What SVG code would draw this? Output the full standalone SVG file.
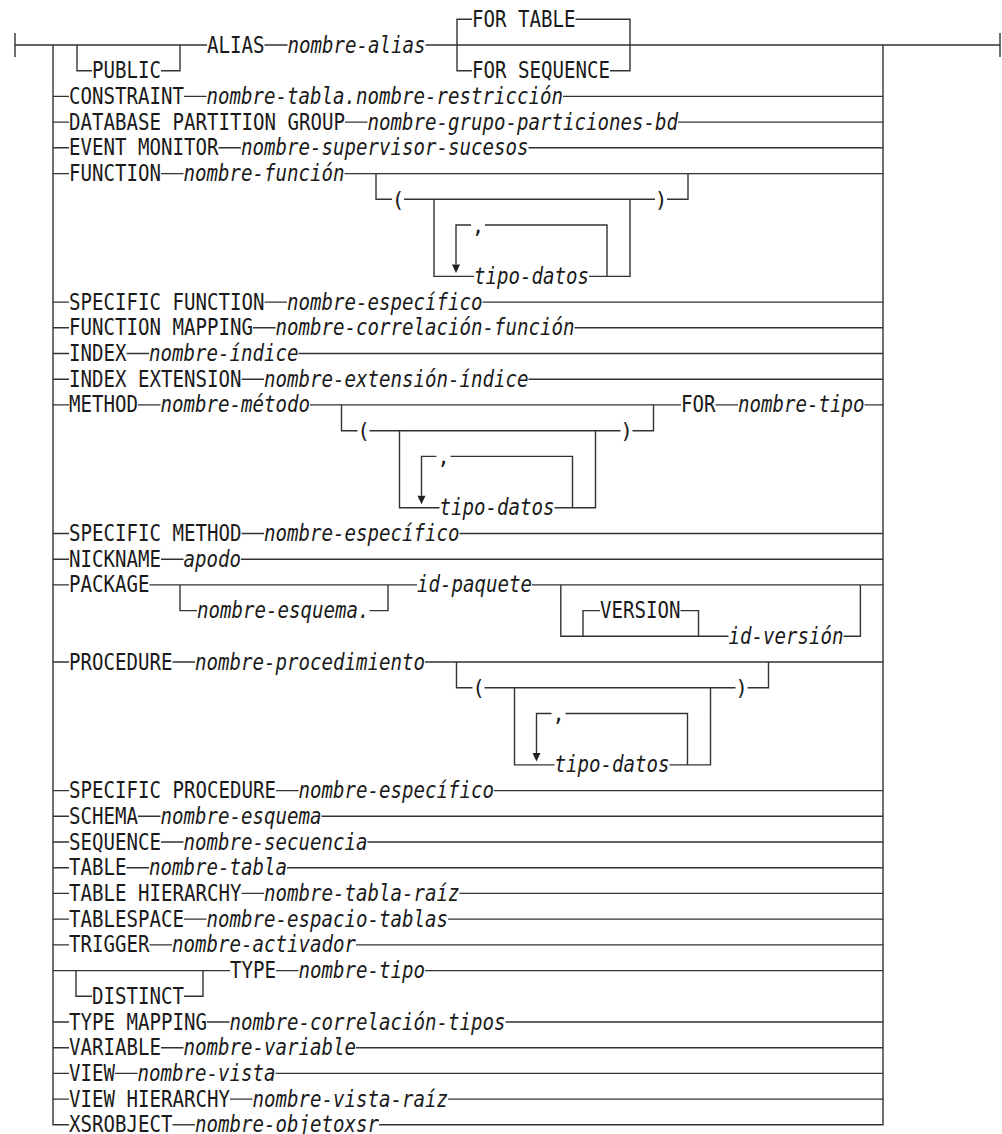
<svg xmlns="http://www.w3.org/2000/svg" width="1002" height="1134" viewBox="0 0 1002 1134">
<style>
.k{font-family:"DejaVu Sans Mono","Liberation Mono",monospace;font-size:23px;fill:#1a1a1a}
.v{font-family:"DejaVu Sans Mono","Liberation Mono",monospace;font-size:23px;font-style:italic;fill:#1a1a1a}
.c{text-anchor:middle;font-size:21px}
.ln{stroke:#333;stroke-width:1.4;fill:none}
.ar{fill:#222;stroke:none}
</style>
<rect width="1002" height="1134" fill="#fff"/>
<g id="connectors">
<path class="ln" d="M15,33V57M1000,33V57"/>
<path class="ln" d="M15,45H207M264.5,45H287.5M425.5,45H1000"/>
<path class="ln" d="M53,45V1124.8H69M379,1124.8H883V45"/>
<path class="ln" d="M77,45V70.7H92M161,70.7H180V45"/>
<path class="ln" d="M472,19.3H457V70.7H472M575.5,19.3H630V70.7H610"/>
<path class="ln" d="M53,96.4H69M184,96.4H206.5M563,96.4H883"/>
<path class="ln" d="M53,122.1H69M345,122.1H367.5M678,122.1H883"/>
<path class="ln" d="M53,147.8H69M218.5,147.8H241M528.5,147.8H883"/>
<path class="ln" d="M53,173.6H69M161,173.6H183.5M344.5,173.6H883"/>
<path class="ln" d="M376,173.6V199.3H392M404,199.3H655M667,199.3H688V173.6M434,199.3V276.4H474M589,276.4H630V199.3M456,264.4V225H471M485,225H607V276.4"/>
<polygon class="ar" points="452,264.4 460,264.4 456,272.9"/>
<path class="ln" d="M53,302.1H69M264.5,302.1H287M482.5,302.1H883"/>
<path class="ln" d="M53,327.8H69M253,327.8H275.5M574.5,327.8H883"/>
<path class="ln" d="M53,353.5H69M126.5,353.5H149M298.5,353.5H883"/>
<path class="ln" d="M53,379.2H69M241.5,379.2H264M528.5,379.2H883"/>
<path class="ln" d="M53,404.9H69M138,404.9H160.5M310,404.9H681M715.5,404.9H738M864.5,404.9H883"/>
<path class="ln" d="M341.5,404.9V430.7H357.5M369.5,430.7H620.5M632.5,430.7H653.5V404.9M399.5,430.7V507.8H439.5M554.5,507.8H595.5V430.7M421.5,495.8V456.4H436.5M450.5,456.4H572.5V507.8"/>
<polygon class="ar" points="417.5,495.8 425.5,495.8 421.5,504.3"/>
<path class="ln" d="M53,533.5H69M241.5,533.5H264M459.5,533.5H883"/>
<path class="ln" d="M53,559.2H69M161,559.2H183.5M241,559.2H883"/>
<path class="ln" d="M53,584.9H69M149.5,584.9H417M532,584.9H883"/>
<path class="ln" d="M180,584.9V610.6H197M369.5,610.6H388V584.9"/>
<path class="ln" d="M560.8,584.9V636.3H728.5M843.5,636.3H860.4V584.9M583,636.3V610.6H600M680.5,610.6H698.5V636.3"/>
<path class="ln" d="M53,662H69M172.5,662H195M425,662H883"/>
<path class="ln" d="M456.5,662V687.8H472.5M484.5,687.8H735.5M747.5,687.8H768.5V662M514.5,687.8V764.9H554.5M669.5,764.9H710.5V687.8M536.5,752.9V713.5H551.5M565.5,713.5H687.5V764.9"/>
<polygon class="ar" points="532.5,752.9 540.5,752.9 536.5,761.4"/>
<path class="ln" d="M53,790.6H69M276,790.6H298.5M494,790.6H883"/>
<path class="ln" d="M53,816.3H69M138,816.3H160.5M321.5,816.3H883"/>
<path class="ln" d="M53,842H69M161,842H183.5M367.5,842H883"/>
<path class="ln" d="M53,867.7H69M126.5,867.7H149M287,867.7H883"/>
<path class="ln" d="M53,893.4H69M241.5,893.4H264M459.5,893.4H883"/>
<path class="ln" d="M53,919.1H69M184,919.1H206.5M448,919.1H883"/>
<path class="ln" d="M53,944.9H69M149.5,944.9H172M356,944.9H883"/>
<path class="ln" d="M53,970.6H230M276,970.6H298.5M425,970.6H883"/>
<path class="ln" d="M76,970.6V996.3H92M184,996.3H203V970.6"/>
<path class="ln" d="M53,1022H69M207,1022H229.5M505.5,1022H883"/>
<path class="ln" d="M53,1047.7H69M161,1047.7H183.5M356,1047.7H883"/>
<path class="ln" d="M53,1073.4H69M115,1073.4H137.5M275.5,1073.4H883"/>
<path class="ln" d="M53,1099.1H69M230,1099.1H252.5M448,1099.1H883"/>
<path class="ln" d="M172.5,1124.8H195"/>
</g>
<g id="n-alias" lengthAdjust="spacingAndGlyphs"><text class="k" x="92" y="78.2" textLength="69" lengthAdjust="spacingAndGlyphs">PUBLIC</text><text class="k" x="207" y="52.5" textLength="57.5" lengthAdjust="spacingAndGlyphs">ALIAS</text><text class="v" x="287.5" y="52.5" textLength="138" lengthAdjust="spacingAndGlyphs">nombre-alias</text><text class="k" x="472" y="26.8" textLength="103.5" lengthAdjust="spacingAndGlyphs">FOR TABLE</text><text class="k" x="472" y="78.2" textLength="138" lengthAdjust="spacingAndGlyphs">FOR SEQUENCE</text></g>
<g id="n-constraint"><text class="k" x="69" y="103.9" textLength="115" lengthAdjust="spacingAndGlyphs">CONSTRAINT</text><text class="v" x="206.5" y="103.9" textLength="356.5" lengthAdjust="spacingAndGlyphs">nombre-tabla.nombre-restricción</text></g>
<g id="n-dbpg"><text class="k" x="69" y="129.6" textLength="276" lengthAdjust="spacingAndGlyphs">DATABASE PARTITION GROUP</text><text class="v" x="367.5" y="129.6" textLength="310.5" lengthAdjust="spacingAndGlyphs">nombre-grupo-particiones-bd</text></g>
<g id="n-event"><text class="k" x="69" y="155.3" textLength="149.5" lengthAdjust="spacingAndGlyphs">EVENT MONITOR</text><text class="v" x="241" y="155.3" textLength="287.5" lengthAdjust="spacingAndGlyphs">nombre-supervisor-sucesos</text></g>
<g id="n-function"><text class="k" x="69" y="181.1" textLength="92" lengthAdjust="spacingAndGlyphs">FUNCTION</text><text class="v" x="183.5" y="181.1" textLength="161" lengthAdjust="spacingAndGlyphs">nombre-función</text><text class="k c" x="398" y="206.8">(</text><text class="k c" x="661" y="206.8">)</text><text class="k c" x="478" y="232.5">,</text><text class="v" x="474" y="283.9" textLength="115" lengthAdjust="spacingAndGlyphs">tipo-datos</text></g>
<g id="n-specfunc"><text class="k" x="69" y="309.6" textLength="195.5" lengthAdjust="spacingAndGlyphs">SPECIFIC FUNCTION</text><text class="v" x="287" y="309.6" textLength="195.5" lengthAdjust="spacingAndGlyphs">nombre-específico</text></g>
<g id="n-funcmap"><text class="k" x="69" y="335.3" textLength="184" lengthAdjust="spacingAndGlyphs">FUNCTION MAPPING</text><text class="v" x="275.5" y="335.3" textLength="299" lengthAdjust="spacingAndGlyphs">nombre-correlación-función</text></g>
<g id="n-index"><text class="k" x="69" y="361" textLength="57.5" lengthAdjust="spacingAndGlyphs">INDEX</text><text class="v" x="149" y="361" textLength="149.5" lengthAdjust="spacingAndGlyphs">nombre-índice</text></g>
<g id="n-indexext"><text class="k" x="69" y="386.7" textLength="172.5" lengthAdjust="spacingAndGlyphs">INDEX EXTENSION</text><text class="v" x="264" y="386.7" textLength="264.5" lengthAdjust="spacingAndGlyphs">nombre-extensión-índice</text></g>
<g id="n-method"><text class="k" x="69" y="412.4" textLength="69" lengthAdjust="spacingAndGlyphs">METHOD</text><text class="v" x="160.5" y="412.4" textLength="149.5" lengthAdjust="spacingAndGlyphs">nombre-método</text><text class="k c" x="363.5" y="438.2">(</text><text class="k c" x="626.5" y="438.2">)</text><text class="k c" x="443.5" y="463.9">,</text><text class="v" x="439.5" y="515.3" textLength="115" lengthAdjust="spacingAndGlyphs">tipo-datos</text><text class="k" x="681" y="412.4" textLength="34.5" lengthAdjust="spacingAndGlyphs">FOR</text><text class="v" x="738" y="412.4" textLength="126.5" lengthAdjust="spacingAndGlyphs">nombre-tipo</text></g>
<g id="n-specmethod"><text class="k" x="69" y="541" textLength="172.5" lengthAdjust="spacingAndGlyphs">SPECIFIC METHOD</text><text class="v" x="264" y="541" textLength="195.5" lengthAdjust="spacingAndGlyphs">nombre-específico</text></g>
<g id="n-nickname"><text class="k" x="69" y="566.7" textLength="92" lengthAdjust="spacingAndGlyphs">NICKNAME</text><text class="v" x="183.5" y="566.7" textLength="57.5" lengthAdjust="spacingAndGlyphs">apodo</text></g>
<g id="n-package"><text class="k" x="69" y="592.4" textLength="80.5" lengthAdjust="spacingAndGlyphs">PACKAGE</text><text class="v" x="197" y="618.1" textLength="172.5" lengthAdjust="spacingAndGlyphs">nombre-esquema.</text><text class="v" x="417" y="592.4" textLength="115" lengthAdjust="spacingAndGlyphs">id-paquete</text><text class="k" x="600" y="618.1" textLength="80.5" lengthAdjust="spacingAndGlyphs">VERSION</text><text class="v" x="728.5" y="643.8" textLength="115" lengthAdjust="spacingAndGlyphs">id-versión</text></g>
<g id="n-procedure"><text class="k" x="69" y="669.5" textLength="103.5" lengthAdjust="spacingAndGlyphs">PROCEDURE</text><text class="v" x="195" y="669.5" textLength="230" lengthAdjust="spacingAndGlyphs">nombre-procedimiento</text><text class="k c" x="478.5" y="695.3">(</text><text class="k c" x="741.5" y="695.3">)</text><text class="k c" x="558.5" y="721">,</text><text class="v" x="554.5" y="772.4" textLength="115" lengthAdjust="spacingAndGlyphs">tipo-datos</text></g>
<g id="n-specproc"><text class="k" x="69" y="798.1" textLength="207" lengthAdjust="spacingAndGlyphs">SPECIFIC PROCEDURE</text><text class="v" x="298.5" y="798.1" textLength="195.5" lengthAdjust="spacingAndGlyphs">nombre-específico</text></g>
<g id="n-schema"><text class="k" x="69" y="823.8" textLength="69" lengthAdjust="spacingAndGlyphs">SCHEMA</text><text class="v" x="160.5" y="823.8" textLength="161" lengthAdjust="spacingAndGlyphs">nombre-esquema</text></g>
<g id="n-sequence"><text class="k" x="69" y="849.5" textLength="92" lengthAdjust="spacingAndGlyphs">SEQUENCE</text><text class="v" x="183.5" y="849.5" textLength="184" lengthAdjust="spacingAndGlyphs">nombre-secuencia</text></g>
<g id="n-table"><text class="k" x="69" y="875.2" textLength="57.5" lengthAdjust="spacingAndGlyphs">TABLE</text><text class="v" x="149" y="875.2" textLength="138" lengthAdjust="spacingAndGlyphs">nombre-tabla</text></g>
<g id="n-tablehier"><text class="k" x="69" y="900.9" textLength="172.5" lengthAdjust="spacingAndGlyphs">TABLE HIERARCHY</text><text class="v" x="264" y="900.9" textLength="195.5" lengthAdjust="spacingAndGlyphs">nombre-tabla-raíz</text></g>
<g id="n-tablespace"><text class="k" x="69" y="926.6" textLength="115" lengthAdjust="spacingAndGlyphs">TABLESPACE</text><text class="v" x="206.5" y="926.6" textLength="241.5" lengthAdjust="spacingAndGlyphs">nombre-espacio-tablas</text></g>
<g id="n-trigger"><text class="k" x="69" y="952.4" textLength="80.5" lengthAdjust="spacingAndGlyphs">TRIGGER</text><text class="v" x="172" y="952.4" textLength="184" lengthAdjust="spacingAndGlyphs">nombre-activador</text></g>
<g id="n-type"><text class="k" x="92" y="1003.8" textLength="92" lengthAdjust="spacingAndGlyphs">DISTINCT</text><text class="k" x="230" y="978.1" textLength="46" lengthAdjust="spacingAndGlyphs">TYPE</text><text class="v" x="298.5" y="978.1" textLength="126.5" lengthAdjust="spacingAndGlyphs">nombre-tipo</text></g>
<g id="n-typemap"><text class="k" x="69" y="1029.5" textLength="138" lengthAdjust="spacingAndGlyphs">TYPE MAPPING</text><text class="v" x="229.5" y="1029.5" textLength="276" lengthAdjust="spacingAndGlyphs">nombre-correlación-tipos</text></g>
<g id="n-variable"><text class="k" x="69" y="1055.2" textLength="92" lengthAdjust="spacingAndGlyphs">VARIABLE</text><text class="v" x="183.5" y="1055.2" textLength="172.5" lengthAdjust="spacingAndGlyphs">nombre-variable</text></g>
<g id="n-view"><text class="k" x="69" y="1080.9" textLength="46" lengthAdjust="spacingAndGlyphs">VIEW</text><text class="v" x="137.5" y="1080.9" textLength="138" lengthAdjust="spacingAndGlyphs">nombre-vista</text></g>
<g id="n-viewhier"><text class="k" x="69" y="1106.6" textLength="161" lengthAdjust="spacingAndGlyphs">VIEW HIERARCHY</text><text class="v" x="252.5" y="1106.6" textLength="195.5" lengthAdjust="spacingAndGlyphs">nombre-vista-raíz</text></g>
<g id="n-xsrobject"><text class="k" x="69" y="1132.3" textLength="103.5" lengthAdjust="spacingAndGlyphs">XSROBJECT</text><text class="v" x="195" y="1132.3" textLength="184" lengthAdjust="spacingAndGlyphs">nombre-objetoxsr</text></g>
</svg>
